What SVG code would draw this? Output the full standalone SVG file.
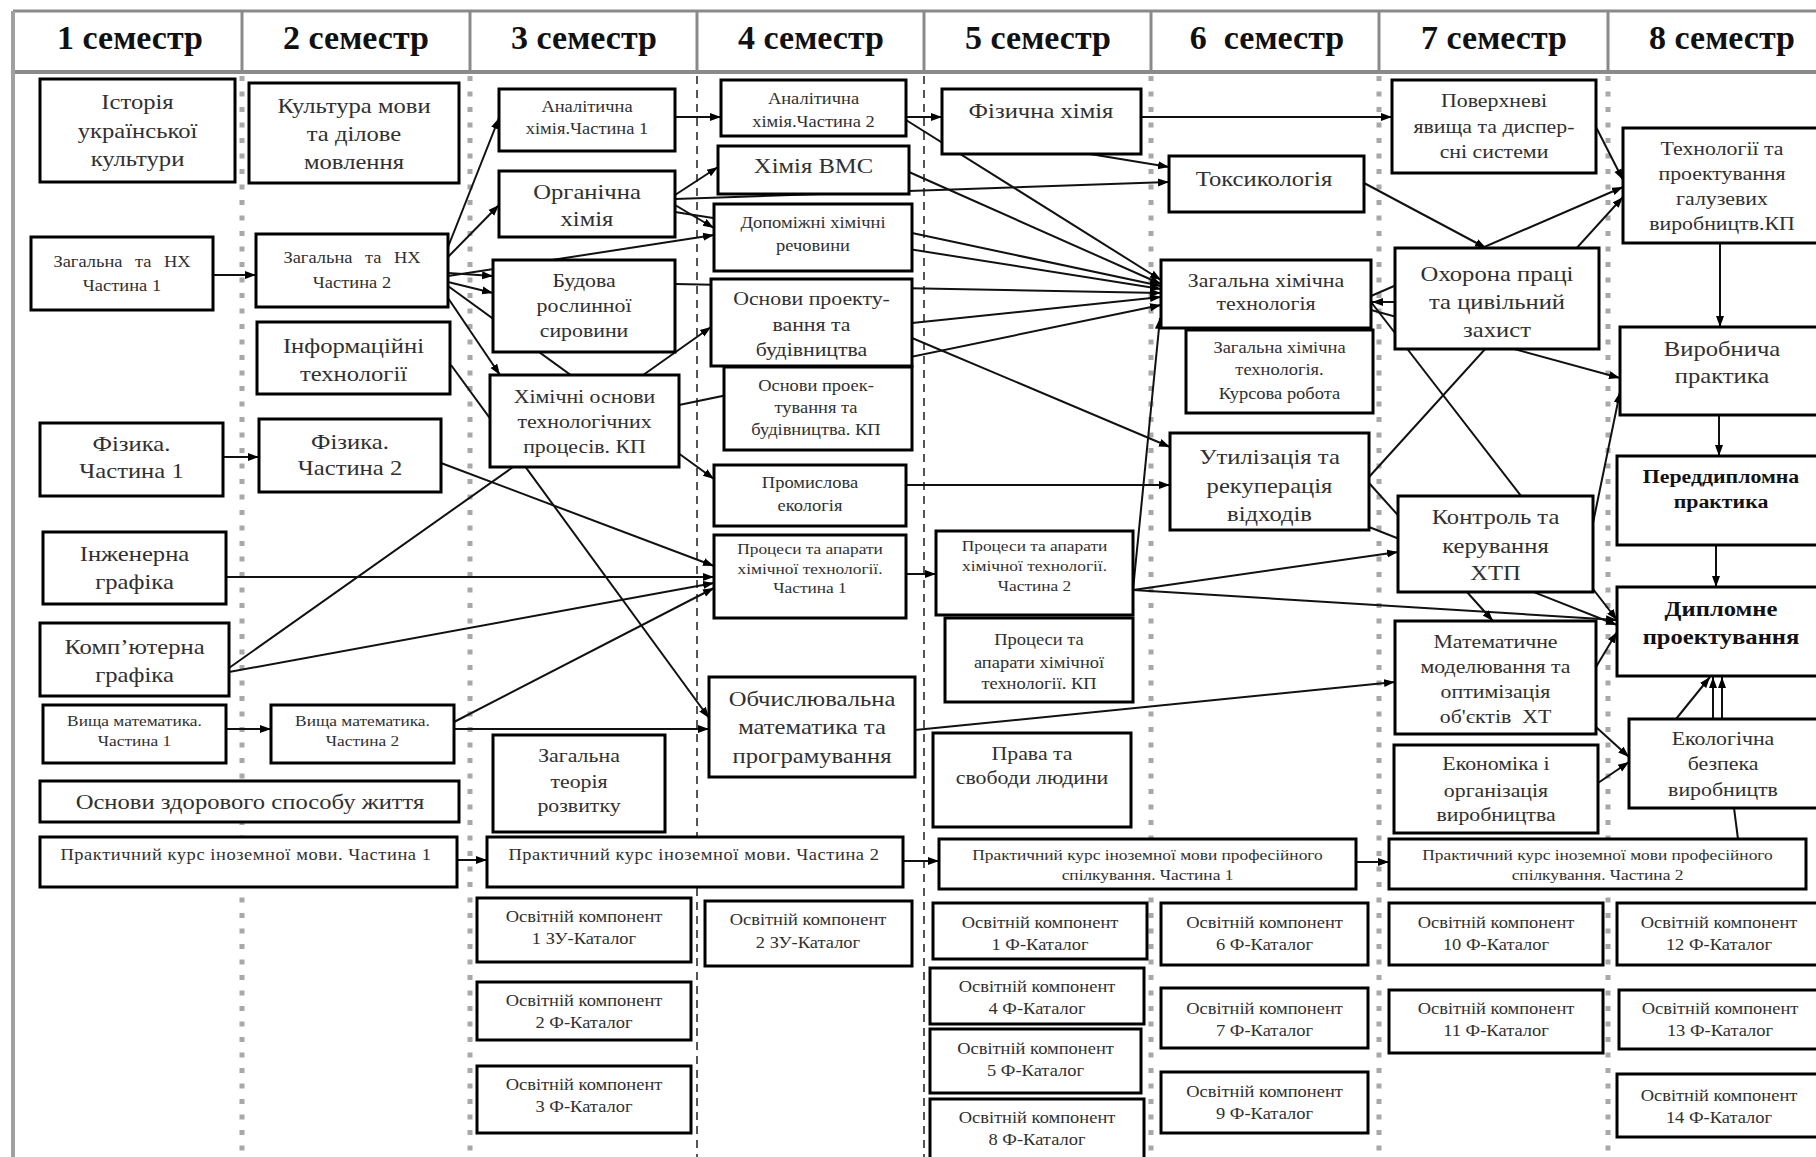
<svg xmlns="http://www.w3.org/2000/svg" width="1816" height="1157" viewBox="0 0 1816 1157">
<style>
.box{fill:#fff;stroke:#000;stroke-width:3}
.t{font-family:"Liberation Serif","Times New Roman",serif;fill:#303030;text-anchor:middle}
.L{font-size:22px}
.M{font-size:19.5px}
.S{font-size:16.5px}
.X{font-size:15.5px}
.bd{font-weight:bold;fill:#111}
.hd{font-family:"Liberation Serif","Times New Roman",serif;font-weight:bold;font-size:34px;fill:#111;text-anchor:middle}
.c{fill:none;stroke:#111;stroke-width:2;marker-end:url(#a)}
.n{fill:none;stroke:#111;stroke-width:2}
.hl{stroke:#8a8a8a;stroke-width:3;fill:none}
.sd{stroke:#a8a8a8;stroke-width:5;stroke-dasharray:5 10.5;fill:none}
.sk{stroke:#555;stroke-width:2;stroke-dasharray:8 6;fill:none}
</style>
<defs>
<marker id="a" markerWidth="11" markerHeight="10" refX="11" refY="5" orient="auto" markerUnits="userSpaceOnUse"><path d="M0,1 L11,5 L0,9 z" fill="#000"/></marker>
</defs>
<rect width="1816" height="1157" fill="#fff"/>
<g id="header">
<line class="hl" x1="13" y1="11" x2="1816" y2="11"/>
<line class="hl" x1="13" y1="72" x2="1816" y2="72" style="stroke-width:4"/>
<line class="hl" x1="13" y1="11" x2="13" y2="1157" style="stroke:#a0a0a0;stroke-width:4"/>
<line class="hl" x1="242" y1="11" x2="242" y2="72"/>
<line class="hl" x1="470" y1="11" x2="470" y2="72"/>
<line class="hl" x1="697" y1="11" x2="697" y2="72"/>
<line class="hl" x1="924" y1="11" x2="924" y2="72"/>
<line class="hl" x1="1151" y1="11" x2="1151" y2="72"/>
<line class="hl" x1="1379" y1="11" x2="1379" y2="72"/>
<line class="hl" x1="1608" y1="11" x2="1608" y2="72"/>
<text class="hd" x="130" y="49">1 семестр</text>
<text class="hd" x="356" y="49">2 семестр</text>
<text class="hd" x="584" y="49">3 семестр</text>
<text class="hd" x="811" y="49">4 семестр</text>
<text class="hd" x="1038" y="49">5 семестр</text>
<text class="hd" x="1267" y="49" xml:space="preserve">6  семестр</text>
<text class="hd" x="1494" y="49">7 семестр</text>
<text class="hd" x="1722" y="49">8 семестр</text>
</g>
<g id="separators">
<line class="sd" x1="242" y1="76" x2="242" y2="1157"/>
<line class="sd" x1="470" y1="76" x2="470" y2="1157"/>
<line class="sk" x1="697" y1="76" x2="697" y2="1157"/>
<line class="sk" x1="924" y1="76" x2="924" y2="1157"/>
<line class="sd" x1="1151" y1="76" x2="1151" y2="1157"/>
<line class="sd" x1="1379" y1="76" x2="1379" y2="1157"/>
<line class="sd" x1="1608" y1="76" x2="1608" y2="1157"/>
</g>
<g id="connectors">
<line class="c" x1="213" y1="275" x2="256" y2="275"/>
<line class="c" x1="223" y1="457" x2="259" y2="457"/>
<line class="c" x1="226" y1="729" x2="271" y2="729"/>
<line class="c" x1="457" y1="860" x2="487" y2="860"/>
<line class="c" x1="903" y1="861" x2="939" y2="861"/>
<line class="c" x1="1356" y1="862" x2="1389" y2="862"/>
<line class="c" x1="448" y1="247" x2="499" y2="118"/>
<line class="c" x1="448" y1="257" x2="499" y2="205"/>
<line class="c" x1="448" y1="273" x2="493" y2="276"/>
<line class="c" x1="448" y1="276" x2="714" y2="235"/>
<line class="c" x1="448" y1="282" x2="493" y2="293"/>
<line class="c" x1="448" y1="286" x2="714" y2="479"/>
<line class="c" x1="448" y1="298" x2="500" y2="375"/>
<line class="c" x1="451" y1="365" x2="709" y2="718"/>
<line class="c" x1="675" y1="117" x2="721" y2="117"/>
<line class="c" x1="675" y1="195" x2="718" y2="167"/>
<line class="c" x1="675" y1="199" x2="1169" y2="182"/>
<line class="c" x1="675" y1="205" x2="714" y2="228"/>
<line class="c" x1="675" y1="212" x2="1161" y2="289"/>
<line class="c" x1="675" y1="284" x2="1161" y2="293"/>
<line class="c" x1="229" y1="668" x2="711" y2="327"/>
<line class="c" x1="229" y1="672" x2="714" y2="583"/>
<line class="c" x1="226" y1="577" x2="714" y2="577"/>
<line class="c" x1="441" y1="463" x2="714" y2="566"/>
<line class="c" x1="454" y1="722" x2="714" y2="588"/>
<line class="c" x1="454" y1="729" x2="709" y2="729"/>
<line class="c" x1="679" y1="405" x2="1161" y2="305"/>
<line class="c" x1="906" y1="117" x2="942" y2="117"/>
<line class="c" x1="906" y1="120" x2="1161" y2="280"/>
<line class="c" x1="909" y1="172" x2="1161" y2="284"/>
<line class="c" x1="912" y1="233" x2="1161" y2="286"/>
<line class="c" x1="912" y1="323" x2="1161" y2="297"/>
<line class="c" x1="912" y1="338" x2="1170" y2="447"/>
<line class="c" x1="1090" y1="154" x2="1169" y2="167"/>
<line class="c" x1="1141" y1="117" x2="1392" y2="117"/>
<line class="c" x1="906" y1="485" x2="1170" y2="485"/>
<line class="c" x1="906" y1="574" x2="936" y2="574"/>
<line class="c" x1="1133" y1="590" x2="1160" y2="318"/>
<line class="c" x1="1133" y1="590" x2="1398" y2="552"/>
<line class="c" x1="1133" y1="590" x2="1617" y2="620"/>
<line class="c" x1="915" y1="730" x2="1395" y2="682"/>
<line class="c" x1="1596" y1="127" x2="1623" y2="180"/>
<line class="c" x1="1364" y1="183" x2="1486" y2="248"/>
<line class="c" x1="1371" y1="296" x2="1623" y2="187"/>
<line class="c" x1="1371" y1="302" x2="1617" y2="620"/>
<line class="c" x1="1371" y1="310" x2="1620" y2="378"/>
<line class="c" x1="1395" y1="302" x2="1372" y2="302"/>
<line class="c" x1="1369" y1="477" x2="1623" y2="197"/>
<line class="c" x1="1369" y1="483" x2="1493" y2="621"/>
<line class="c" x1="1369" y1="527" x2="1617" y2="625"/>
<line class="c" x1="1593" y1="523" x2="1620" y2="392"/>
<line class="c" x1="1596" y1="667" x2="1617" y2="632"/>
<line class="c" x1="1596" y1="727" x2="1629" y2="757"/>
<line class="c" x1="1598" y1="783" x2="1629" y2="762"/>
<line class="c" x1="1720" y1="243" x2="1720" y2="327"/>
<line class="c" x1="1719" y1="415" x2="1719" y2="456"/>
<line class="c" x1="1716" y1="545" x2="1716" y2="587"/>
<line class="c" x1="1676" y1="719" x2="1710" y2="677"/>
<line class="c" x1="1713" y1="719" x2="1713" y2="677"/>
<line class="c" x1="1722" y1="719" x2="1722" y2="677"/>
<line class="n" x1="1738" y1="839" x2="1734" y2="808"/>
</g>
<g id="n1"><rect class="box" x="40" y="79" width="195" height="103"/><text class="t L" transform="translate(137.5 0) scale(1.12 1)"><tspan x="0" y="109">Історія</tspan><tspan x="0" y="138">української</tspan><tspan x="0" y="166">культури</tspan></text></g>
<g id="n2"><rect class="box" x="31" y="237" width="182" height="73"/><text class="t S" word-spacing="7" transform="translate(122 0) scale(1.12 1)"><tspan x="0" y="267">Загальна та НХ</tspan><tspan x="0" y="291" word-spacing="0">Частина 1</tspan></text></g>
<g id="n3"><rect class="box" x="40" y="423" width="183" height="73"/><text class="t L" transform="translate(131.5 0) scale(1.12 1)"><tspan x="0" y="451">Фізика.</tspan><tspan x="0" y="478">Частина 1</tspan></text></g>
<g id="n4"><rect class="box" x="43" y="532" width="183" height="72"/><text class="t L" transform="translate(134.5 0) scale(1.12 1)"><tspan x="0" y="561">Інженерна</tspan><tspan x="0" y="589">графіка</tspan></text></g>
<g id="n5"><rect class="box" x="40" y="623" width="189" height="73"/><text class="t L" transform="translate(134.5 0) scale(1.12 1)"><tspan x="0" y="654">Комп’ютерна</tspan><tspan x="0" y="682">графіка</tspan></text></g>
<g id="n6"><rect class="box" x="43" y="705" width="183" height="58"/><text class="t X" transform="translate(134.5 0) scale(1.12 1)"><tspan x="0" y="726">Вища математика.</tspan><tspan x="0" y="746">Частина 1</tspan></text></g>
<g id="n7"><rect class="box" x="40" y="781" width="419" height="41"/><text class="t L" transform="translate(250 0) scale(1.12 1)"><tspan x="0" y="809">Основи здорового способу життя</tspan></text></g>
<g id="n8"><rect class="box" x="40" y="837" width="417" height="50"/><text class="t S" letter-spacing="0.5" transform="translate(246 0) scale(1.12 1)"><tspan x="0" y="860">Практичний курс іноземної мови. Частина 1</tspan></text></g>
<g id="n9"><rect class="box" x="249" y="83" width="210" height="100"/><text class="t L" transform="translate(354 0) scale(1.12 1)"><tspan x="0" y="113">Культура мови</tspan><tspan x="0" y="141">та ділове</tspan><tspan x="0" y="169">мовлення</tspan></text></g>
<g id="n10"><rect class="box" x="256" y="234" width="192" height="73"/><text class="t S" word-spacing="7" transform="translate(352 0) scale(1.12 1)"><tspan x="0" y="263">Загальна та НХ</tspan><tspan x="0" y="288" word-spacing="0">Частина 2</tspan></text></g>
<g id="n11"><rect class="box" x="257" y="322" width="193" height="72"/><text class="t L" transform="translate(353.5 0) scale(1.12 1)"><tspan x="0" y="353">Інформаційні</tspan><tspan x="0" y="381">технології</tspan></text></g>
<g id="n12"><rect class="box" x="259" y="419" width="182" height="73"/><text class="t L" transform="translate(350 0) scale(1.12 1)"><tspan x="0" y="449">Фізика.</tspan><tspan x="0" y="475">Частина 2</tspan></text></g>
<g id="n13"><rect class="box" x="271" y="705" width="183" height="58"/><text class="t X" transform="translate(362.5 0) scale(1.12 1)"><tspan x="0" y="726">Вища математика.</tspan><tspan x="0" y="746">Частина 2</tspan></text></g>
<g id="n14"><rect class="box" x="499" y="89" width="176" height="62"/><text class="t S" transform="translate(587 0) scale(1.12 1)"><tspan x="0" y="112">Аналітична</tspan><tspan x="0" y="134">хімія.Частина 1</tspan></text></g>
<g id="n15"><rect class="box" x="499" y="171" width="176" height="66"/><text class="t L" transform="translate(587 0) scale(1.12 1)"><tspan x="0" y="199">Органічна</tspan><tspan x="0" y="226">хімія</tspan></text></g>
<g id="n16"><rect class="box" x="493" y="260" width="182" height="92"/><text class="t M" transform="translate(584 0) scale(1.12 1)"><tspan x="0" y="287">Будова</tspan><tspan x="0" y="312">рослинної</tspan><tspan x="0" y="337">сировини</tspan></text></g>
<g id="n17"><rect class="box" x="490" y="375" width="189" height="92"/><text class="t M" transform="translate(584.5 0) scale(1.12 1)"><tspan x="0" y="403">Хімічні основи</tspan><tspan x="0" y="428">технологічних</tspan><tspan x="0" y="453">процесів. КП</tspan></text></g>
<g id="n18"><rect class="box" x="493" y="735" width="172" height="97"/><text class="t M" transform="translate(579 0) scale(1.12 1)"><tspan x="0" y="762">Загальна</tspan><tspan x="0" y="788">теорія</tspan><tspan x="0" y="812">розвитку</tspan></text></g>
<g id="n19"><rect class="box" x="487" y="837" width="416" height="50"/><text class="t S" letter-spacing="0.5" transform="translate(694 0) scale(1.12 1)"><tspan x="0" y="860">Практичний курс іноземної мови. Частина 2</tspan></text></g>
<g id="n20"><rect class="box" x="477" y="898" width="214" height="64"/><text class="t S" transform="translate(584 0) scale(1.12 1)"><tspan x="0" y="922">Освітній компонент</tspan><tspan x="0" y="944">1 ЗУ-Каталог</tspan></text></g>
<g id="n21"><rect class="box" x="477" y="982" width="214" height="58"/><text class="t S" transform="translate(584 0) scale(1.12 1)"><tspan x="0" y="1006">Освітній компонент</tspan><tspan x="0" y="1028">2 Ф-Каталог</tspan></text></g>
<g id="n22"><rect class="box" x="477" y="1066" width="214" height="67"/><text class="t S" transform="translate(584 0) scale(1.12 1)"><tspan x="0" y="1090">Освітній компонент</tspan><tspan x="0" y="1112">3 Ф-Каталог</tspan></text></g>
<g id="n23"><rect class="box" x="721" y="80" width="185" height="56"/><text class="t S" transform="translate(813.5 0) scale(1.12 1)"><tspan x="0" y="104">Аналітична</tspan><tspan x="0" y="127">хімія.Частина 2</tspan></text></g>
<g id="n24"><rect class="box" x="718" y="146" width="191" height="48"/><text class="t L" transform="translate(813.5 0) scale(1.12 1)"><tspan x="0" y="173">Хімія ВМС</tspan></text></g>
<g id="n25"><rect class="box" x="714" y="204" width="198" height="67"/><text class="t S" transform="translate(813 0) scale(1.12 1)"><tspan x="0" y="228">Допоміжні хімічні</tspan><tspan x="0" y="251">речовини</tspan></text></g>
<g id="n26"><rect class="box" x="711" y="279" width="201" height="87"/><text class="t M" transform="translate(811.5 0) scale(1.12 1)"><tspan x="0" y="305">Основи проекту-</tspan><tspan x="0" y="331">вання та</tspan><tspan x="0" y="356">будівництва</tspan></text></g>
<g id="n27"><rect class="box" x="724" y="367" width="188" height="83"/><text class="t S" transform="translate(816 0) scale(1.12 1)"><tspan x="0" y="391">Основи проек-</tspan><tspan x="0" y="413">тування та</tspan><tspan x="0" y="435">будівництва. КП</tspan></text></g>
<g id="n28"><rect class="box" x="714" y="465" width="192" height="61"/><text class="t S" transform="translate(810 0) scale(1.12 1)"><tspan x="0" y="488">Промислова</tspan><tspan x="0" y="511">екологія</tspan></text></g>
<g id="n29"><rect class="box" x="714" y="535" width="192" height="83"/><text class="t X" transform="translate(810 0) scale(1.12 1)"><tspan x="0" y="554">Процеси та апарати</tspan><tspan x="0" y="574">хімічної технології.</tspan><tspan x="0" y="593">Частина 1</tspan></text></g>
<g id="n30"><rect class="box" x="709" y="677" width="206" height="100"/><text class="t L" transform="translate(812 0) scale(1.12 1)"><tspan x="0" y="706">Обчислювальна</tspan><tspan x="0" y="734">математика та</tspan><tspan x="0" y="763">програмування</tspan></text></g>
<g id="n31"><rect class="box" x="705" y="901" width="207" height="65"/><text class="t S" transform="translate(808 0) scale(1.12 1)"><tspan x="0" y="925">Освітній компонент</tspan><tspan x="0" y="948">2 ЗУ-Каталог</tspan></text></g>
<g id="n32"><rect class="box" x="942" y="89" width="199" height="65"/><text class="t L" transform="translate(1041 0) scale(1.12 1)"><tspan x="0" y="118">Фізична хімія</tspan></text></g>
<g id="n33"><rect class="box" x="936" y="531" width="197" height="84"/><text class="t X" transform="translate(1034.5 0) scale(1.12 1)"><tspan x="0" y="551">Процеси та апарати</tspan><tspan x="0" y="571">хімічної технології.</tspan><tspan x="0" y="591">Частина 2</tspan></text></g>
<g id="n34"><rect class="box" x="945" y="618" width="188" height="84"/><text class="t S" transform="translate(1039 0) scale(1.12 1)"><tspan x="0" y="645">Процеси та</tspan><tspan x="0" y="668">апарати хімічної</tspan><tspan x="0" y="689">технології. КП</tspan></text></g>
<g id="n35"><rect class="box" x="933" y="733" width="198" height="94"/><text class="t M" transform="translate(1032 0) scale(1.12 1)"><tspan x="0" y="760">Права та</tspan><tspan x="0" y="784">свободи людини</tspan></text></g>
<g id="n36"><rect class="box" x="939" y="839" width="417" height="50"/><text class="t X" transform="translate(1147.5 0) scale(1.12 1)"><tspan x="0" y="860">Практичний курс іноземної мови професійного</tspan><tspan x="0" y="880">спілкування. Частина 1</tspan></text></g>
<g id="n37"><rect class="box" x="933" y="903" width="214" height="56"/><text class="t S" transform="translate(1040 0) scale(1.12 1)"><tspan x="0" y="928">Освітній компонент</tspan><tspan x="0" y="950">1 Ф-Каталог</tspan></text></g>
<g id="n38"><rect class="box" x="930" y="968" width="214" height="56"/><text class="t S" transform="translate(1037 0) scale(1.12 1)"><tspan x="0" y="992">Освітній компонент</tspan><tspan x="0" y="1014">4 Ф-Каталог</tspan></text></g>
<g id="n39"><rect class="box" x="930" y="1029" width="211" height="64"/><text class="t S" transform="translate(1035.5 0) scale(1.12 1)"><tspan x="0" y="1054">Освітній компонент</tspan><tspan x="0" y="1076">5 Ф-Каталог</tspan></text></g>
<g id="n40"><rect class="box" x="930" y="1099" width="214" height="62"/><text class="t S" transform="translate(1037 0) scale(1.12 1)"><tspan x="0" y="1123">Освітній компонент</tspan><tspan x="0" y="1145">8 Ф-Каталог</tspan></text></g>
<g id="n41"><rect class="box" x="1169" y="156" width="195" height="56"/><text class="t L" transform="translate(1264 0) scale(1.12 1)"><tspan x="0" y="186">Токсикологія</tspan></text></g>
<g id="n42"><rect class="box" x="1161" y="260" width="210" height="68"/><text class="t M" transform="translate(1266 0) scale(1.12 1)"><tspan x="0" y="287">Загальна хімічна</tspan><tspan x="0" y="310">технологія</tspan></text></g>
<g id="n43"><rect class="box" x="1186" y="330" width="187" height="83"/><text class="t S" transform="translate(1279.5 0) scale(1.12 1)"><tspan x="0" y="353">Загальна хімічна</tspan><tspan x="0" y="375">технологія.</tspan><tspan x="0" y="399">Курсова робота</tspan></text></g>
<g id="n44"><rect class="box" x="1170" y="433" width="199" height="97"/><text class="t L" transform="translate(1269.5 0) scale(1.12 1)"><tspan x="0" y="464">Утилізація та</tspan><tspan x="0" y="493">рекуперація</tspan><tspan x="0" y="521">відходів</tspan></text></g>
<g id="n45"><rect class="box" x="1161" y="903" width="207" height="62"/><text class="t S" transform="translate(1264.5 0) scale(1.12 1)"><tspan x="0" y="928">Освітній компонент</tspan><tspan x="0" y="950">6 Ф-Каталог</tspan></text></g>
<g id="n46"><rect class="box" x="1161" y="988" width="207" height="60"/><text class="t S" transform="translate(1264.5 0) scale(1.12 1)"><tspan x="0" y="1014">Освітній компонент</tspan><tspan x="0" y="1036">7 Ф-Каталог</tspan></text></g>
<g id="n47"><rect class="box" x="1161" y="1072" width="207" height="61"/><text class="t S" transform="translate(1264.5 0) scale(1.12 1)"><tspan x="0" y="1097">Освітній компонент</tspan><tspan x="0" y="1119">9 Ф-Каталог</tspan></text></g>
<g id="n48"><rect class="box" x="1392" y="80" width="204" height="93"/><text class="t M" transform="translate(1494 0) scale(1.12 1)"><tspan x="0" y="107">Поверхневі</tspan><tspan x="0" y="133">явища та диспер-</tspan><tspan x="0" y="158">сні системи</tspan></text></g>
<g id="n49"><rect class="box" x="1395" y="248" width="204" height="101"/><text class="t L" transform="translate(1497 0) scale(1.12 1)"><tspan x="0" y="281">Охорона праці</tspan><tspan x="0" y="309">та цивільний</tspan><tspan x="0" y="337">захист</tspan></text></g>
<g id="n50"><rect class="box" x="1398" y="496" width="195" height="96"/><text class="t L" transform="translate(1495.5 0) scale(1.12 1)"><tspan x="0" y="524">Контроль та</tspan><tspan x="0" y="553">керування</tspan><tspan x="0" y="580">ХТП</tspan></text></g>
<g id="n51"><rect class="box" x="1395" y="621" width="201" height="113"/><text class="t M" transform="translate(1495.5 0) scale(1.12 1)"><tspan x="0" y="648">Математичне</tspan><tspan x="0" y="673">моделювання та</tspan><tspan x="0" y="698">оптимізація</tspan><tspan x="0" y="723" xml:space="preserve">об'єктів  ХТ</tspan></text></g>
<g id="n52"><rect class="box" x="1394" y="745" width="204" height="88"/><text class="t M" transform="translate(1496 0) scale(1.12 1)"><tspan x="0" y="770">Економіка і</tspan><tspan x="0" y="797">організація</tspan><tspan x="0" y="821">виробництва</tspan></text></g>
<g id="n53"><rect class="box" x="1389" y="839" width="417" height="50"/><text class="t X" transform="translate(1597.5 0) scale(1.12 1)"><tspan x="0" y="860">Практичний курс іноземної мови професійного</tspan><tspan x="0" y="880">спілкування. Частина 2</tspan></text></g>
<g id="n54"><rect class="box" x="1389" y="903" width="214" height="62"/><text class="t S" transform="translate(1496 0) scale(1.12 1)"><tspan x="0" y="928">Освітній компонент</tspan><tspan x="0" y="950">10 Ф-Каталог</tspan></text></g>
<g id="n55"><rect class="box" x="1389" y="990" width="214" height="63"/><text class="t S" transform="translate(1496 0) scale(1.12 1)"><tspan x="0" y="1014">Освітній компонент</tspan><tspan x="0" y="1036">11 Ф-Каталог</tspan></text></g>
<g id="n56"><rect class="box" x="1623" y="128" width="197" height="115"/><text class="t M" transform="translate(1722 0) scale(1.12 1)"><tspan x="0" y="155">Технології та</tspan><tspan x="0" y="180">проектування</tspan><tspan x="0" y="205">галузевих</tspan><tspan x="0" y="230">виробництв.КП</tspan></text></g>
<g id="n57"><rect class="box" x="1620" y="327" width="200" height="88"/><text class="t L" transform="translate(1722 0) scale(1.12 1)"><tspan x="0" y="356">Виробнича</tspan><tspan x="0" y="383">практика</tspan></text></g>
<g id="n58"><rect class="box" x="1617" y="456" width="203" height="89"/><text class="t M bd" transform="translate(1721 0) scale(1.12 1)"><tspan x="0" y="483">Переддипломна</tspan><tspan x="0" y="508">практика</tspan></text></g>
<g id="n59"><rect class="box" x="1617" y="587" width="203" height="89"/><text class="t L bd" transform="translate(1721 0) scale(1.12 1)"><tspan x="0" y="616">Дипломне</tspan><tspan x="0" y="644">проектування</tspan></text></g>
<g id="n60"><rect class="box" x="1629" y="719" width="191" height="89"/><text class="t M" transform="translate(1723 0) scale(1.12 1)"><tspan x="0" y="745">Екологічна</tspan><tspan x="0" y="770">безпека</tspan><tspan x="0" y="796">виробництв</tspan></text></g>
<g id="n61"><rect class="box" x="1617" y="903" width="203" height="62"/><text class="t S" transform="translate(1719 0) scale(1.12 1)"><tspan x="0" y="928">Освітній компонент</tspan><tspan x="0" y="950">12 Ф-Каталог</tspan></text></g>
<g id="n62"><rect class="box" x="1619" y="990" width="201" height="59"/><text class="t S" transform="translate(1720 0) scale(1.12 1)"><tspan x="0" y="1014">Освітній компонент</tspan><tspan x="0" y="1036">13 Ф-Каталог</tspan></text></g>
<g id="n63"><rect class="box" x="1617" y="1074" width="203" height="63"/><text class="t S" transform="translate(1719 0) scale(1.12 1)"><tspan x="0" y="1101">Освітній компонент</tspan><tspan x="0" y="1123">14 Ф-Каталог</tspan></text></g>
</svg>
